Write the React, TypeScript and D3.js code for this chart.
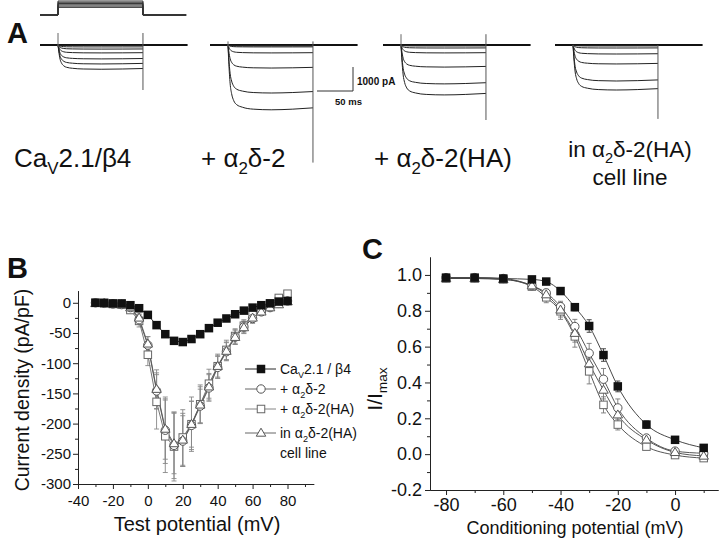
import React, { useEffect, useRef } from "react";
import * as d3 from "d3";

const FONT = "'Liberation Sans', Arial, Helvetica, sans-serif";

// ---------------- Panel A data ----------------
const PULSE_MS = 118;
const PRE_MS = 25;
const POST_MS = 62;
const traceT = [0, 1, 2, 3, 5, 8, 12, 20, 35, 60, 90, 118];
const traceShape = [0, 0.25, 0.45, 0.6, 0.75, 0.86, 0.92, 0.96, 0.99, 1.0, 0.99, 0.97];
const ampCtrl = [-20, -80, -170, -330, -580, -790, -1010];
const ampA2d2 = [-20, -40, -80, -330, -960, -2000, -2700];
const ampHA = [-20, -40, -125, -330, -920, -1620, -2080];
const ampLine = [-20, -40, -125, -375, -790, -1500, -1875];
const traceAmps = [ampCtrl, ampA2d2, ampHA, ampLine];
const tailPeak = [-1875, -4900, -3125, -3080];
const capUp = [500, 150, 450, 0];
const protocolSteps = [-20, -10, 0, 10, 20, 30];
const protocolHold = -80;

// ---------------- Panel B data ----------------
const ivV = [-30, -25, -20, -15, -10, -5, 0, 5, 10, 15, 20, 25, 30, 35, 40, 45, 50, 55, 60, 65, 70, 75, 80];
const ivCtrl = [0, 0, -1, -1, -4, -9, -20, -37, -52, -63, -65, -60, -52, -42, -33, -26, -19, -13, -8, -4, -1, 2, 3];
const ivA2d2 = [0, -1, -2, -3, -8, -28, -70, -146, -211, -236, -229, -203, -171, -141, -107, -81, -57, -40, -26, -15, -8, -1, 3];
const ivHA = [0, -1, -2, -3, -12, -30, -86, -164, -221, -238, -223, -201, -168, -134, -105, -78, -55, -38, -19, -9, -1, 8, 15];
const ivLine = [-1, -1, -2, -3, -8, -25, -68, -143, -209, -233, -227, -201, -169, -139, -105, -80, -57, -41, -25, -15, -8, -3, 2];
const ivCtrlErr = [1, 1, 1, 1, 2, 2, 3, 4, 5, 5, 5, 5, 4, 4, 3, 3, 2, 2, 2, 2, 1, 1, 1];
const ivA2d2Err = [3, 3, 3, 3, 4, 8, 14, 30, 55, 55, 42, 40, 28, 22, 18, 15, 12, 10, 8, 6, 5, 4, 4];
const ivHAErr = [3, 3, 3, 3, 5, 10, 18, 45, 60, 57, 46, 45, 32, 24, 20, 16, 12, 10, 8, 6, 5, 5, 5];
const ivLineErr = [3, 3, 3, 3, 4, 8, 12, 32, 50, 50, 44, 38, 30, 22, 18, 15, 12, 10, 8, 6, 5, 4, 4];
const ivYTicks = [0, -50, -100, -150, -200, -250, -300];
const ivYMinor = [-25, -75, -125, -175, -225, -275];
const ivXTicks = [-40, -20, 0, 20, 40, 60, 80];
const ivXMinor = [-30, -10, 10, 30, 50, 70, 90];

// ---------------- Panel C data ----------------
const ssV = [-80, -70, -60, -50, -45, -40, -35, -30, -25, -20, -10, 0, 10];
const ssCtrl = [0.985, 0.985, 0.98, 0.975, 0.963, 0.91, 0.82, 0.715, 0.553, 0.378, 0.165, 0.08, 0.035];
const ssA2d2 = [0.985, 0.985, 0.98, 0.94, 0.9, 0.823, 0.712, 0.563, 0.418, 0.258, 0.09, 0.017, 0.005];
const ssHA = [0.98, 0.98, 0.975, 0.935, 0.875, 0.797, 0.657, 0.462, 0.275, 0.165, 0.042, -0.005, -0.022];
const ssLine = [0.98, 0.98, 0.975, 0.94, 0.89, 0.805, 0.675, 0.505, 0.358, 0.22, 0.08, 0.01, -0.01];
const ssCtrlErr = [0.01, 0.01, 0.01, 0.01, 0.01, 0.015, 0.02, 0.035, 0.035, 0.03, 0.02, 0.01, 0.01];
const ssA2d2Err = [0.01, 0.01, 0.01, 0.015, 0.02, 0.03, 0.04, 0.055, 0.06, 0.05, 0.02, 0.01, 0.01];
const ssHAErr = [0.01, 0.01, 0.01, 0.015, 0.03, 0.045, 0.06, 0.07, 0.045, 0.03, 0.015, 0.01, 0.01];
const ssLineErr = [0.01, 0.01, 0.01, 0.015, 0.02, 0.04, 0.05, 0.06, 0.05, 0.04, 0.015, 0.01, 0.01];
const ssYTicks = [-0.2, 0, 0.2, 0.4, 0.6, 0.8, 1.0];
const ssYMinor = [-0.1, 0.1, 0.3, 0.5, 0.7, 0.9];
const ssXTicks = [-80, -60, -40, -20, 0];
const ssXMinor = [-70, -50, -30, -10, 10];

// ---------------- Layout ----------------
const PANEL_ONSET_X = [58, 228, 401, 573];
const TRACE_BASE_Y = 45;
const msToPx = d3.scaleLinear().domain([0, 50]).range([0, 36]);
const pAToPx = d3.scaleLinear().domain([0, -1000]).range([0, 24]);
const protoY = d3.scaleLinear().domain([-80, 30]).range([15, 1]);

const xB = d3.scaleLinear().domain([-40, 95]).range([78, 313.7]);
const yB = d3.scaleLinear().domain([-300, 20]).range([484, 290.7]);
const xC = d3.scaleLinear().domain([-85.6, 15]).range([430, 718]);
const yC = d3.scaleLinear().domain([-0.2, 1.1]).range([490, 257]);

type Part = { t: string; sub?: boolean };

function Rich({ parts, x, y, size, anchor = "start", rotate = false, weight = "normal" }: any) {
  const off = size * 0.25;
  return (
    <text
      x={x}
      y={y}
      fontSize={size}
      textAnchor={anchor}
      fontFamily={FONT}
      fontWeight={weight}
      fill="#111"
      transform={rotate ? `rotate(-90 ${x} ${y})` : undefined}
    >
      {parts.map((p: Part, i: number) => {
        const prevSub = i > 0 && parts[i - 1].sub;
        if (p.sub) {
          return (
            <tspan key={i} fontSize={size * 0.65} dy={off}>
              {p.t}
            </tspan>
          );
        }
        return (
          <tspan key={i} dy={prevSub ? -off : 0}>
            {p.t}
          </tspan>
        );
      })}
    </text>
  );
}

function Axis({ axis, transform, fontSize }: any) {
  const ref = useRef<SVGGElement>(null);
  useEffect(() => {
    const g = d3.select(ref.current as SVGGElement);
    g.call(axis);
    g.attr("font-family", FONT);
    g.selectAll("text").attr("font-size", fontSize).attr("fill", "#111").attr("font-family", FONT);
    g.select(".domain").attr("stroke", "#222").attr("stroke-width", 1);
    g.selectAll(".tick line").attr("stroke", "#222").attr("stroke-width", 1);
  });
  return <g ref={ref} transform={transform} />;
}

function Marker({ type, x, y, s = 1 }: any) {
  if (type === "fsq") {
    const w = 8.5 * s;
    return <rect x={x - w / 2} y={y - w / 2} width={w} height={w} fill="#111" />;
  }
  if (type === "circ") {
    return <circle cx={x} cy={y} r={4.2 * s} fill="#fff" stroke="#555" strokeWidth={1} />;
  }
  if (type === "osq") {
    const w = 7.5 * s;
    return <rect x={x - w / 2} y={y - w / 2} width={w} height={w} fill="#fff" stroke="#666" strokeWidth={1} />;
  }
  const h = 8 * s;
  const w = 9.5 * s;
  const pts = `${x},${y - h * 0.6} ${x - w / 2},${y + h * 0.4} ${x + w / 2},${y + h * 0.4}`;
  return <polygon points={pts} fill="#fff" stroke="#555" strokeWidth={1} />;
}

function Series({ xs, ys, errs, xS, yS, lineColor, errColor, curve }: any) {
  const line = d3
    .line<number>()
    .x((_, i) => xS(xs[i]))
    .y((d) => yS(d))
    .curve(curve || d3.curveLinear);
  return (
    <g>
      {ys.map((v: number, i: number) => {
        const x = xS(xs[i]);
        const y1 = yS(v - errs[i]);
        const y2 = yS(v + errs[i]);
        return (
          <g key={i} stroke={errColor} strokeWidth={0.9}>
            <line x1={x} x2={x} y1={y1} y2={y2} />
            <line x1={x - 2.5} x2={x + 2.5} y1={y1} y2={y1} />
            <line x1={x - 2.5} x2={x + 2.5} y1={y2} y2={y2} />
          </g>
        );
      })}
      <path d={line(ys) || ""} fill="none" stroke={lineColor} strokeWidth={0.9} />
    </g>
  );
}

function Markers({ xs, ys, xS, yS, type }: any) {
  return (
    <g>
      {ys.map((v: number, i: number) => (
        <Marker key={i} type={type} x={xS(xs[i])} y={yS(v)} />
      ))}
    </g>
  );
}

function TracePanel({ idx }: { idx: number }) {
  const x0 = PANEL_ONSET_X[idx];
  const base = TRACE_BASE_Y;
  const amps = traceAmps[idx];
  const xEnd = x0 + msToPx(PULSE_MS);
  const line = d3
    .line<[number, number]>()
    .x((d) => x0 + msToPx(d[0]))
    .y((d) => base + pAToPx(d[1]))
    .curve(d3.curveMonotoneX);
  return (
    <g>
      <line
        x1={x0 - msToPx(PRE_MS)}
        x2={x0 + msToPx(PULSE_MS + POST_MS)}
        y1={base}
        y2={base}
        stroke="#111"
        strokeWidth={2}
      />
      {amps.map((a, k) => (
        <path
          key={k}
          d={line(traceT.map((t, i) => [t, a * traceShape[i]] as [number, number])) || ""}
          fill="none"
          stroke="#222"
          strokeWidth={1}
        />
      ))}
      <line x1={x0} x2={x0} y1={base + pAToPx(capUp[idx])} y2={base + 2} stroke="#666" strokeWidth={1} />
      <line x1={xEnd} x2={xEnd} y1={base + pAToPx(capUp[idx])} y2={base + pAToPx(tailPeak[idx])} stroke="#555" strokeWidth={1} />
    </g>
  );
}

function Protocol() {
  const x0 = PANEL_ONSET_X[0];
  const xs = x0 - msToPx(PRE_MS);
  const xe = x0 + msToPx(PULSE_MS);
  const xf = x0 + msToPx(PULSE_MS + POST_MS - 2);
  const yh = protoY(protocolHold);
  return (
    <g stroke="#333" strokeWidth={1} fill="none">
      {protocolSteps.map((v, i) => (
        <path key={i} d={`M${xs},${yh}H${x0}V${protoY(v)}H${xe}V${yh}H${xf}`} />
      ))}
    </g>
  );
}

const legendItems = [
  { type: "fsq", color: "#111", parts: [{ t: "Ca" }, { t: "V", sub: true }, { t: "2.1 / β4" }] },
  { type: "circ", color: "#555", parts: [{ t: "+ α" }, { t: "2", sub: true }, { t: "δ-2" }] },
  { type: "osq", color: "#777", parts: [{ t: "+ α" }, { t: "2", sub: true }, { t: "δ-2(HA)" }] },
  { type: "tri", color: "#555", parts: [{ t: "in α" }, { t: "2", sub: true }, { t: "δ-2(HA)" }] },
];
const legendRowY = [369, 389, 409, 433];

export default function App() {
  const bX = d3.axisBottom(xB).tickValues(ivXTicks).tickSize(5).tickPadding(6).tickSizeOuter(0).tickFormat((d: any) => String(d));
  const bXm = d3.axisBottom(xB).tickValues(ivXMinor).tickSize(3).tickSizeOuter(0).tickFormat(() => "");
  const bY = d3.axisLeft(yB).tickValues(ivYTicks).tickSize(5).tickPadding(2).tickSizeOuter(0).tickFormat((d: any) => String(d));
  const bYm = d3.axisLeft(yB).tickValues(ivYMinor).tickSize(3).tickSizeOuter(0).tickFormat(() => "");
  const cX = d3.axisBottom(xC).tickValues(ssXTicks).tickSize(5).tickPadding(3).tickSizeOuter(0).tickFormat((d: any) => String(d));
  const cXm = d3.axisBottom(xC).tickValues(ssXMinor).tickSize(3).tickSizeOuter(0).tickFormat(() => "");
  const cY = d3.axisLeft(yC).tickValues(ssYTicks).tickSize(5).tickPadding(3).tickSizeOuter(0).tickFormat((d: any) => (+d).toFixed(1));
  const cYm = d3.axisLeft(yC).tickValues(ssYMinor).tickSize(3).tickSizeOuter(0).tickFormat(() => "");

  return (
    <svg
      width={720}
      height={540}
      style={{ position: "absolute", left: 0, top: 0, background: "#fff" }}
      fontFamily={FONT}
    >
      <rect x={0} y={0} width={720} height={540} fill="#fff" />
      {/* Panel A */}
      <text x={7} y={43} fontSize={29} fontWeight="bold" fontFamily={FONT} fill="#111">A</text>
      <Protocol />
      {[0, 1, 2, 3].map((i) => (
        <TracePanel key={i} idx={i} />
      ))}
      {/* scale bar */}
      <path
        d={`M${353 - msToPx(50)},${91}H353V${91 - pAToPx(-1000)}`}
        fill="none"
        stroke="#333"
        strokeWidth={1}
      />
      <text x={357} y={85} fontSize={10} fontWeight="bold" fontFamily={FONT} fill="#111">1000 pA</text>
      <text x={335} y={105} fontSize={9.5} fontWeight="bold" fontFamily={FONT} fill="#111">50 ms</text>

      <Rich x={14} y={167} size={26} parts={[{ t: "Ca" }, { t: "V", sub: true }, { t: "2.1/β4" }]} />
      <Rich x={201} y={167} size={26} parts={[{ t: "+ α" }, { t: "2", sub: true }, { t: "δ-2" }]} />
      <Rich x={374} y={167} size={26} parts={[{ t: "+ α" }, { t: "2", sub: true }, { t: "δ-2(HA)" }]} />
      <Rich x={630} y={157} size={22.5} anchor="middle" parts={[{ t: "in α" }, { t: "2", sub: true }, { t: "δ-2(HA)" }]} />
      <text x={630} y={185} fontSize={22.5} textAnchor="middle" fontFamily={FONT} fill="#111">cell line</text>

      {/* Panel B */}
      <text x={7} y={278} fontSize={29} fontWeight="bold" fontFamily={FONT} fill="#111">B</text>
      <Axis axis={bXm} transform={`translate(0,${yB(-300)})`} fontSize={15} />
      <Axis axis={bX} transform={`translate(0,${yB(-300)})`} fontSize={15} />
      <Axis axis={bYm} transform={`translate(${xB(-40)},0)`} fontSize={15} />
      <Axis axis={bY} transform={`translate(${xB(-40)},0)`} fontSize={15} />
      <Series xs={ivV} ys={ivCtrl} errs={ivCtrlErr} xS={xB} yS={yB} lineColor="#111" errColor="#333" />
      <Series xs={ivV} ys={ivHA} errs={ivHAErr} xS={xB} yS={yB} lineColor="#666" errColor="#888" />
      <Series xs={ivV} ys={ivA2d2} errs={ivA2d2Err} xS={xB} yS={yB} lineColor="#555" errColor="#888" />
      <Series xs={ivV} ys={ivLine} errs={ivLineErr} xS={xB} yS={yB} lineColor="#555" errColor="#888" />
      <Markers xs={ivV} ys={ivHA} xS={xB} yS={yB} type="osq" />
      <Markers xs={ivV} ys={ivA2d2} xS={xB} yS={yB} type="circ" />
      <Markers xs={ivV} ys={ivLine} xS={xB} yS={yB} type="tri" />
      <Markers xs={ivV} ys={ivCtrl} xS={xB} yS={yB} type="fsq" />
      <text x={197} y={531} fontSize={20} textAnchor="middle" fontFamily={FONT} fill="#111">Test potential (mV)</text>
      <text
        x={29}
        y={390}
        fontSize={19.5}
        textAnchor="middle"
        fontFamily={FONT}
        fill="#111"
        transform="rotate(-90 29 390)"
      >
        Current density (pA/pF)
      </text>
      {legendItems.map((it, i) => (
        <g key={i}>
          <line x1={245} x2={276} y1={legendRowY[i]} y2={legendRowY[i]} stroke={it.color} strokeWidth={0.9} />
          <Marker type={it.type} x={261} y={legendRowY[i]} />
          <Rich x={280} y={legendRowY[i] + 5} size={14} parts={it.parts} />
        </g>
      ))}
      <text x={280} y={458} fontSize={14} fontFamily={FONT} fill="#111">cell line</text>

      {/* Panel C */}
      <text x={362} y={259} fontSize={29} fontWeight="bold" fontFamily={FONT} fill="#111">C</text>
      <Axis axis={cXm} transform={`translate(0,${yC(-0.2)})`} fontSize={18} />
      <Axis axis={cX} transform={`translate(0,${yC(-0.2)})`} fontSize={18} />
      <Axis axis={cYm} transform={`translate(${xC(-85.6)},0)`} fontSize={18} />
      <Axis axis={cY} transform={`translate(${xC(-85.6)},0)`} fontSize={18} />
      <Series xs={ssV} ys={ssCtrl} errs={ssCtrlErr} xS={xC} yS={yC} lineColor="#333" errColor="#333" curve={d3.curveMonotoneX} />
      <Series xs={ssV} ys={ssA2d2} errs={ssA2d2Err} xS={xC} yS={yC} lineColor="#444" errColor="#777" curve={d3.curveMonotoneX} />
      <Series xs={ssV} ys={ssHA} errs={ssHAErr} xS={xC} yS={yC} lineColor="#444" errColor="#777" curve={d3.curveMonotoneX} />
      <Series xs={ssV} ys={ssLine} errs={ssLineErr} xS={xC} yS={yC} lineColor="#444" errColor="#777" curve={d3.curveMonotoneX} />
      <Markers xs={ssV} ys={ssHA} xS={xC} yS={yC} type="osq" />
      <Markers xs={ssV} ys={ssA2d2} xS={xC} yS={yC} type="circ" />
      <Markers xs={ssV} ys={ssLine} xS={xC} yS={yC} type="tri" />
      <Markers xs={ssV} ys={ssCtrl} xS={xC} yS={yC} type="fsq" />
      <text x={575} y={534} fontSize={18} textAnchor="middle" fontFamily={FONT} fill="#111">Conditioning potential (mV)</text>
      <Rich x={382} y={389} size={21} anchor="middle" rotate={true} parts={[{ t: "I/I" }, { t: "max", sub: true }]} />
    </svg>
  );
}
